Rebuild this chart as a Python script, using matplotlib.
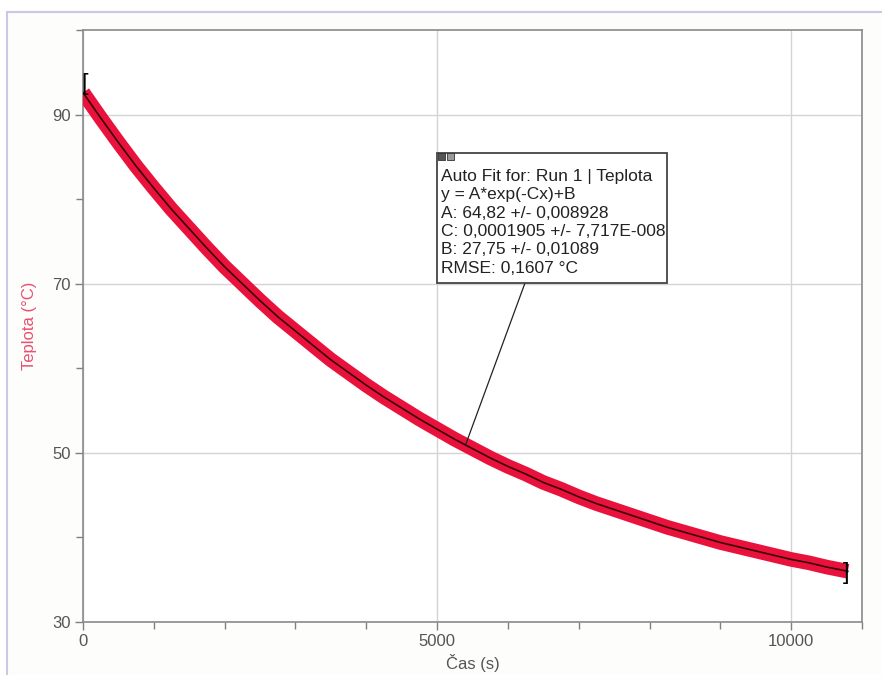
import matplotlib
matplotlib.use("Agg")
import matplotlib.pyplot as plt
from matplotlib.patches import Rectangle

plt.rcParams['font.family'] = ['Liberation Sans', 'DejaVu Sans']

# Data
time_s = [0, 250, 500, 750, 1000, 1250, 1500, 1750, 2000, 2250, 2500, 2750,
          3000, 3250, 3500, 3750, 4000, 4250, 4500, 4750, 5000, 5250, 5500,
          5750, 6000, 6250, 6500, 6750, 7000, 7250, 7500, 7750, 8000, 8250,
          8500, 8750, 9000, 9250, 9500, 9750, 10000, 10250, 10500, 10800]
teplota = [92.6, 89.6, 86.7, 83.9, 81.3, 78.8, 76.5, 74.2, 72.0, 70.0, 68.0, 66.1,
           64.4, 62.7, 61.0, 59.5, 58.0, 56.6, 55.3, 54.0, 52.8, 51.6, 50.5,
           49.4, 48.4, 47.5, 46.5, 45.7, 44.8, 44.0, 43.3, 42.6, 41.9, 41.2,
           40.6, 40.0, 39.4, 38.9, 38.4, 37.9, 37.4, 37.0, 36.5, 36.0]
fit_lines = ["Auto Fit for: Run 1 | Teplota",
             "y = A*exp(-Cx)+B",
             "A: 64,82 +/- 0,008928",
             "C: 0,0001905 +/- 7,717E-008",
             "B: 27,75 +/- 0,01089",
             "RMSE: 0,1607 °C"]
anchor_x = 5400
anchor_y = 50.9
x_ticks = [0, 5000, 10000]
y_ticks = [30, 50, 70, 90]

W, H = 882, 675
fig = plt.figure(figsize=(W/100, H/100), dpi=100)
fig.patch.set_facecolor('white')
# outer panel
fig.patches.append(Rectangle((7/W, -0.01), 1.0, (H-12)/H + 0.01,
                             transform=fig.transFigure, facecolor='#fdfdfb',
                             edgecolor='#c9c9e6', linewidth=1.5, zorder=-10))

ax = fig.add_axes([83/W, 53/H, (862-83)/W, (622-30)/H])
ax.set_zorder(1)
ax.set_facecolor('white')
ax.set_xlim(0, 11000)
ax.set_ylim(30, 100)

ax.plot(time_s, teplota, color='#e8123c', linewidth=10.5, solid_capstyle='butt',
        solid_joinstyle='round', zorder=3)
ax.plot(time_s, teplota, color='#3a0008', linewidth=1.2, zorder=4)

# bracket markers at start and end
ax.text(time_s[0] - 20, teplota[0] + 1.0, '[', color='black', fontsize=17,
        ha='left', va='center', zorder=5)
ax.text(time_s[-1] - 30, teplota[-1] - 0.2, ']', color='black', fontsize=17,
        ha='center', va='center', zorder=5)

ax.set_xticks(x_ticks)
ax.set_yticks(y_ticks)
ax.set_xticks(range(0, 11001, 1000), minor=True)
ax.set_yticks(range(30, 101, 10), minor=True)
ax.tick_params(axis='both', which='major', direction='out', length=6, width=1,
               color='#808080', labelcolor='#555555', labelsize=12, pad=3)
ax.tick_params(axis='both', which='minor', direction='out', length=5, width=1,
               color='#808080')
ax.grid(True, which='major', color='#d4d4d4', linewidth=1)
ax.set_axisbelow(True)
for s in ax.spines.values():
    s.set_color('#8a8a8a')
    s.set_linewidth(1.2)

ax.set_xlabel('Čas (s)', color='#555555', fontsize=12, labelpad=3)
ax.set_ylabel('Teplota (°C)', color='#e8506e', fontsize=12, labelpad=11)

# fit annotation box
box_l, box_t, box_r, box_b = 437, 153, 667, 283
fig.patches.append(Rectangle((box_l/W, (H-box_b)/H), (box_r-box_l)/W, (box_b-box_t)/H,
                             transform=fig.transFigure, facecolor='white',
                             edgecolor='#444444', linewidth=1.3, zorder=6))
fig.text(441/W, (H-169)/H, "\n".join(fit_lines), ha='left', va='top',
         fontsize=12.5, color='#222222', linespacing=1.28, zorder=8)
ax.annotate('', xy=(anchor_x, anchor_y),
            xytext=(525/W, (H-box_b)/H), textcoords='figure fraction',
            arrowprops=dict(arrowstyle='-', color='#222222', linewidth=0.9,
                            shrinkA=0, shrinkB=0), zorder=5)
# small icons on the box corner
for i, fc in enumerate(['#555555', '#999999']):
    fig.patches.append(Rectangle(((438 + i*9)/W, (H-160)/H), 7/W, 7/H,
                                 transform=fig.transFigure, facecolor=fc,
                                 edgecolor='#333333', linewidth=0.6, zorder=7))

fig.savefig('out.png', dpi=100)
